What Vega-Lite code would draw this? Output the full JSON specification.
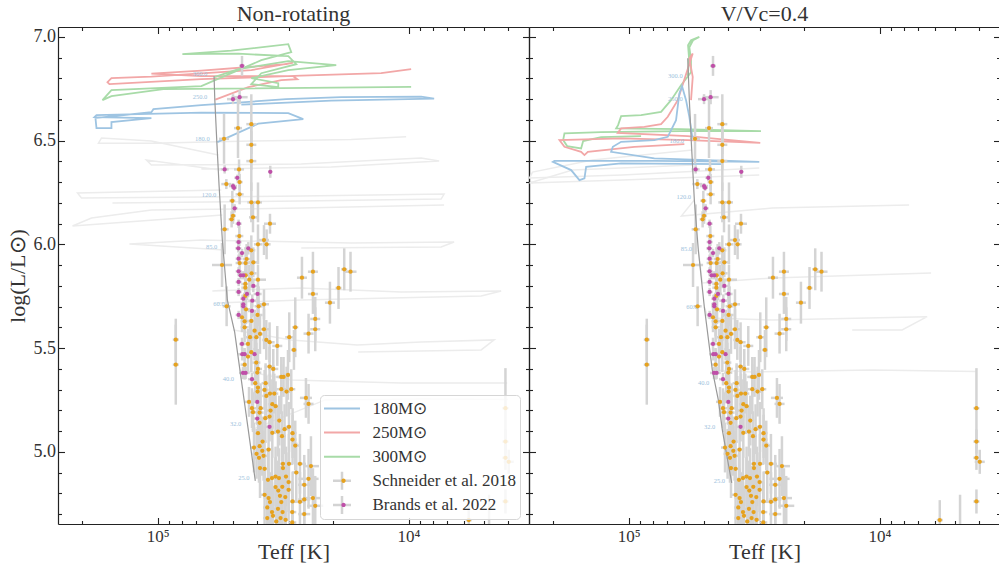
{
"$schema":"https://vega.github.io/schema/vega-lite/v6.json",
"background":"white",
"padding":{"left":6,"top":3,"right":0,"bottom":0},
"config":{"view":{"stroke":null},"font":"Liberation Serif",
"axis":{"grid":false,"domainColor":"#222","tickColor":"#222","domainWidth":1.2,"tickWidth":1.1,"labelFont":"Liberation Serif","titleFont":"Liberation Serif","labelColor":"#333","titleColor":"#333","titleFontWeight":"normal","labelFontSize":18,"titleFontSize":22,"labelFlush":false,"labelOverlap":false},
"title":{"font":"Liberation Serif","fontSize":22,"fontWeight":"normal","color":"#333","anchor":"middle"}},
"datasets":{
"stars":[
{"T":4.6266,"L":6.5799,"dT":0.020,"dL":0.144,"s":"Schneider et al. 2018"},
{"T":4.6266,"L":6.4803,"dT":0.020,"dL":0.120,"s":"Schneider et al. 2018"},
{"T":4.6266,"L":6.4018,"dT":0.020,"dL":0.144,"s":"Schneider et al. 2018"},
{"T":4.6796,"L":6.5607,"dT":0.016,"dL":0.144,"s":"Schneider et al. 2018"},
{"T":4.7353,"L":6.5091,"dT":0.020,"dL":0.120,"s":"Schneider et al. 2018"},
{"T":4.6756,"L":6.3618,"dT":0.020,"dL":0.048,"s":"Schneider et al. 2018"},
{"T":4.6732,"L":6.3007,"dT":0.012,"dL":0.039,"s":"Schneider et al. 2018"},
{"T":4.7262,"L":6.2910,"dT":0.020,"dL":0.024,"s":"Schneider et al. 2018"},
{"T":4.6732,"L":6.2415,"dT":0.016,"dL":0.048,"s":"Schneider et al. 2018"},
{"T":4.7023,"L":6.2106,"dT":0.012,"dL":0.048,"s":"Schneider et al. 2018"},
{"T":4.6266,"L":6.2029,"dT":0.016,"dL":0.096,"s":"Schneider et al. 2018"},
{"T":4.6000,"L":6.2029,"dT":0.016,"dL":0.096,"s":"Schneider et al. 2018"},
{"T":4.6995,"L":6.1384,"dT":0.012,"dL":0.039,"s":"Schneider et al. 2018"},
{"T":4.7051,"L":6.1211,"dT":0.012,"dL":0.039,"s":"Schneider et al. 2018"},
{"T":4.6199,"L":6.1307,"dT":0.016,"dL":0.072,"s":"Schneider et al. 2018"},
{"T":4.5522,"L":6.0999,"dT":0.024,"dL":0.048,"s":"Schneider et al. 2018"},
{"T":4.7329,"L":6.0729,"dT":0.016,"dL":0.120,"s":"Schneider et al. 2018"},
{"T":4.6744,"L":6.0407,"dT":0.016,"dL":0.048,"s":"Schneider et al. 2018"},
{"T":4.5761,"L":6.0214,"dT":0.020,"dL":0.072,"s":"Schneider et al. 2018"},
{"T":4.5657,"L":6.0007,"dT":0.016,"dL":0.072,"s":"Schneider et al. 2018"},
{"T":4.6000,"L":6.0007,"dT":0.016,"dL":0.096,"s":"Schneider et al. 2018"},
{"T":4.6266,"L":5.9718,"dT":0.016,"dL":0.072,"s":"Schneider et al. 2018"},
{"T":4.6454,"L":5.9300,"dT":0.016,"dL":0.072,"s":"Schneider et al. 2018"},
{"T":4.6732,"L":5.9107,"dT":0.016,"dL":0.048,"s":"Schneider et al. 2018"},
{"T":4.6493,"L":5.9107,"dT":0.016,"dL":0.072,"s":"Schneider et al. 2018"},
{"T":4.6187,"L":5.9141,"dT":0.020,"dL":0.072,"s":"Schneider et al. 2018"},
{"T":4.7433,"L":5.9011,"dT":0.040,"dL":0.106,"s":"Schneider et al. 2018"},
{"T":4.6493,"L":5.8515,"dT":0.016,"dL":0.072,"s":"Schneider et al. 2018"},
{"T":4.6255,"L":5.8611,"dT":0.020,"dL":0.072,"s":"Schneider et al. 2018"},
{"T":4.6346,"L":5.8303,"dT":0.016,"dL":0.072,"s":"Schneider et al. 2018"},
{"T":4.6000,"L":5.8303,"dT":0.032,"dL":0.072,"s":"Schneider et al. 2018"},
{"T":4.6505,"L":5.8096,"dT":0.016,"dL":0.072,"s":"Schneider et al. 2018"},
{"T":4.6505,"L":5.7918,"dT":0.016,"dL":0.072,"s":"Schneider et al. 2018"},
{"T":4.6505,"L":5.7518,"dT":0.016,"dL":0.072,"s":"Schneider et al. 2018"},
{"T":4.5761,"L":5.7119,"dT":0.020,"dL":0.072,"s":"Schneider et al. 2018"},
{"T":4.5976,"L":5.7022,"dT":0.016,"dL":0.096,"s":"Schneider et al. 2018"},
{"T":4.7250,"L":5.7022,"dT":0.016,"dL":0.096,"s":"Schneider et al. 2018"},
{"T":4.6477,"L":5.6878,"dT":0.016,"dL":0.072,"s":"Schneider et al. 2018"},
{"T":4.6637,"L":5.6493,"dT":0.016,"dL":0.072,"s":"Schneider et al. 2018"},
{"T":4.6016,"L":5.6603,"dT":0.020,"dL":0.096,"s":"Schneider et al. 2018"},
{"T":4.6533,"L":5.6300,"dT":0.016,"dL":0.072,"s":"Schneider et al. 2018"},
{"T":4.6266,"L":5.6314,"dT":0.016,"dL":0.096,"s":"Schneider et al. 2018"},
{"T":4.6533,"L":5.6011,"dT":0.016,"dL":0.072,"s":"Schneider et al. 2018"},
{"T":4.6135,"L":5.5847,"dT":0.016,"dL":0.096,"s":"Schneider et al. 2018"},
{"T":4.5761,"L":5.5915,"dT":0.020,"dL":0.096,"s":"Schneider et al. 2018"},
{"T":4.4248,"L":5.8399,"dT":0.020,"dL":0.101,"s":"Schneider et al. 2018"},
{"T":4.3810,"L":5.8688,"dT":0.020,"dL":0.096,"s":"Schneider et al. 2018"},
{"T":4.3810,"L":5.7614,"dT":0.020,"dL":0.096,"s":"Schneider et al. 2018"},
{"T":4.3133,"L":5.7195,"dT":0.020,"dL":0.101,"s":"Schneider et al. 2018"},
{"T":4.2791,"L":5.7903,"dT":0.012,"dL":0.101,"s":"Schneider et al. 2018"},
{"T":4.2564,"L":5.8804,"dT":0.012,"dL":0.101,"s":"Schneider et al. 2018"},
{"T":4.2313,"L":5.8688,"dT":0.024,"dL":0.096,"s":"Schneider et al. 2018"},
{"T":4.3719,"L":5.6411,"dT":0.020,"dL":0.106,"s":"Schneider et al. 2018"},
{"T":4.3719,"L":5.5915,"dT":0.020,"dL":0.106,"s":"Schneider et al. 2018"},
{"T":4.4515,"L":5.6011,"dT":0.012,"dL":0.144,"s":"Schneider et al. 2018"},
{"T":4.3985,"L":5.5703,"dT":0.020,"dL":0.096,"s":"Schneider et al. 2018"},
{"T":4.4567,"L":5.4918,"dT":0.012,"dL":0.096,"s":"Schneider et al. 2018"},
{"T":4.4674,"L":5.3026,"dT":0.016,"dL":0.096,"s":"Schneider et al. 2018"},
{"T":4.4089,"L":5.2607,"dT":0.024,"dL":0.096,"s":"Schneider et al. 2018"},
{"T":4.3985,"L":5.2318,"dT":0.020,"dL":0.096,"s":"Schneider et al. 2018"},
{"T":4.5920,"L":5.5689,"dT":0.016,"dL":0.096,"s":"Schneider et al. 2018"},
{"T":4.6318,"L":5.5530,"dT":0.016,"dL":0.072,"s":"Schneider et al. 2018"},
{"T":4.6067,"L":5.5530,"dT":0.016,"dL":0.096,"s":"Schneider et al. 2018"},
{"T":4.5669,"L":5.5400,"dT":0.016,"dL":0.096,"s":"Schneider et al. 2018"},
{"T":4.5538,"L":5.5289,"dT":0.020,"dL":0.096,"s":"Schneider et al. 2018"},
{"T":4.4754,"L":5.5530,"dT":0.016,"dL":0.120,"s":"Schneider et al. 2018"},
{"T":4.6398,"L":5.5207,"dT":0.016,"dL":0.072,"s":"Schneider et al. 2018"},
{"T":4.5231,"L":5.5111,"dT":0.020,"dL":0.096,"s":"Schneider et al. 2018"},
{"T":4.6398,"L":5.4596,"dT":0.016,"dL":0.072,"s":"Schneider et al. 2018"},
{"T":4.6266,"L":5.4807,"dT":0.016,"dL":0.096,"s":"Schneider et al. 2018"},
{"T":4.6533,"L":5.4210,"dT":0.016,"dL":0.072,"s":"Schneider et al. 2018"},
{"T":4.6067,"L":5.4307,"dT":0.016,"dL":0.096,"s":"Schneider et al. 2018"},
{"T":4.5538,"L":5.4114,"dT":0.020,"dL":0.096,"s":"Schneider et al. 2018"},
{"T":4.5391,"L":5.4003,"dT":0.020,"dL":0.096,"s":"Schneider et al. 2018"},
{"T":4.6000,"L":5.4003,"dT":0.016,"dL":0.096,"s":"Schneider et al. 2018"},
{"T":4.6028,"L":5.3825,"dT":0.016,"dL":0.096,"s":"Schneider et al. 2018"},
{"T":4.5072,"L":5.3618,"dT":0.020,"dL":0.096,"s":"Schneider et al. 2018"},
{"T":4.4981,"L":5.3618,"dT":0.020,"dL":0.096,"s":"Schneider et al. 2018"},
{"T":4.4805,"L":5.3715,"dT":0.016,"dL":0.120,"s":"Schneider et al. 2018"},
{"T":4.6107,"L":5.3315,"dT":0.016,"dL":0.096,"s":"Schneider et al. 2018"},
{"T":4.5697,"L":5.3315,"dT":0.016,"dL":0.096,"s":"Schneider et al. 2018"},
{"T":4.6000,"L":5.3103,"dT":0.016,"dL":0.096,"s":"Schneider et al. 2018"},
{"T":4.6016,"L":5.2910,"dT":0.016,"dL":0.096,"s":"Schneider et al. 2018"},
{"T":4.5737,"L":5.2992,"dT":0.016,"dL":0.096,"s":"Schneider et al. 2018"},
{"T":4.5072,"L":5.3026,"dT":0.020,"dL":0.120,"s":"Schneider et al. 2018"},
{"T":4.4861,"L":5.2910,"dT":0.020,"dL":0.120,"s":"Schneider et al. 2018"},
{"T":4.5669,"L":5.2703,"dT":0.016,"dL":0.096,"s":"Schneider et al. 2018"},
{"T":4.5522,"L":5.2814,"dT":0.016,"dL":0.096,"s":"Schneider et al. 2018"},
{"T":4.5351,"L":5.2814,"dT":0.016,"dL":0.096,"s":"Schneider et al. 2018"},
{"T":4.6358,"L":5.2415,"dT":0.016,"dL":0.072,"s":"Schneider et al. 2018"},
{"T":4.6239,"L":5.2111,"dT":0.016,"dL":0.096,"s":"Schneider et al. 2018"},
{"T":4.5896,"L":5.2111,"dT":0.016,"dL":0.120,"s":"Schneider et al. 2018"},
{"T":4.5936,"L":5.1899,"dT":0.016,"dL":0.120,"s":"Schneider et al. 2018"},
{"T":4.5430,"L":5.2304,"dT":0.016,"dL":0.120,"s":"Schneider et al. 2018"},
{"T":4.5299,"L":5.2208,"dT":0.016,"dL":0.120,"s":"Schneider et al. 2018"},
{"T":4.5498,"L":5.1996,"dT":0.016,"dL":0.120,"s":"Schneider et al. 2018"},
{"T":4.6199,"L":5.1919,"dT":0.016,"dL":0.096,"s":"Schneider et al. 2018"},
{"T":4.5538,"L":5.1707,"dT":0.016,"dL":0.120,"s":"Schneider et al. 2018"},
{"T":4.5709,"L":5.1630,"dT":0.016,"dL":0.120,"s":"Schneider et al. 2018"},
{"T":4.5152,"L":5.1514,"dT":0.016,"dL":0.120,"s":"Schneider et al. 2018"},
{"T":4.5936,"L":5.1404,"dT":0.016,"dL":0.120,"s":"Schneider et al. 2018"},
{"T":4.4941,"L":5.1100,"dT":0.016,"dL":0.120,"s":"Schneider et al. 2018"},
{"T":4.4766,"L":5.1211,"dT":0.016,"dL":0.120,"s":"Schneider et al. 2018"},
{"T":4.6000,"L":5.0908,"dT":0.016,"dL":0.120,"s":"Schneider et al. 2018"},
{"T":4.5817,"L":5.0503,"dT":0.016,"dL":0.120,"s":"Schneider et al. 2018"},
{"T":4.5430,"L":5.0922,"dT":0.016,"dL":0.120,"s":"Schneider et al. 2018"},
{"T":4.5204,"L":5.0985,"dT":0.016,"dL":0.120,"s":"Schneider et al. 2018"},
{"T":4.5044,"L":5.0763,"dT":0.016,"dL":0.120,"s":"Schneider et al. 2018"},
{"T":4.4622,"L":5.0908,"dT":0.016,"dL":0.120,"s":"Schneider et al. 2018"},
{"T":4.4622,"L":5.0599,"dT":0.016,"dL":0.120,"s":"Schneider et al. 2018"},
{"T":4.4515,"L":5.0311,"dT":0.016,"dL":0.120,"s":"Schneider et al. 2018"},
{"T":4.6159,"L":5.0214,"dT":0.016,"dL":0.120,"s":"Schneider et al. 2018"},
{"T":4.5936,"L":5.0282,"dT":0.016,"dL":0.120,"s":"Schneider et al. 2018"},
{"T":4.5829,"L":5.0055,"dT":0.016,"dL":0.120,"s":"Schneider et al. 2018"},
{"T":4.6056,"L":4.9911,"dT":0.016,"dL":0.120,"s":"Schneider et al. 2018"},
{"T":4.5777,"L":4.9815,"dT":0.016,"dL":0.120,"s":"Schneider et al. 2018"},
{"T":4.5960,"L":4.9718,"dT":0.016,"dL":0.120,"s":"Schneider et al. 2018"},
{"T":4.5578,"L":5.0118,"dT":0.016,"dL":0.120,"s":"Schneider et al. 2018"},
{"T":4.5920,"L":4.9223,"dT":0.016,"dL":0.144,"s":"Schneider et al. 2018"},
{"T":4.5737,"L":4.9189,"dT":0.016,"dL":0.144,"s":"Schneider et al. 2018"},
{"T":4.5005,"L":4.9430,"dT":0.016,"dL":0.144,"s":"Schneider et al. 2018"},
{"T":4.5005,"L":4.9223,"dT":0.016,"dL":0.144,"s":"Schneider et al. 2018"},
{"T":4.4766,"L":4.9430,"dT":0.016,"dL":0.144,"s":"Schneider et al. 2018"},
{"T":4.4328,"L":4.9430,"dT":0.024,"dL":0.144,"s":"Schneider et al. 2018"},
{"T":4.3890,"L":4.9319,"dT":0.032,"dL":0.144,"s":"Schneider et al. 2018"},
{"T":4.4475,"L":4.9011,"dT":0.016,"dL":0.144,"s":"Schneider et al. 2018"},
{"T":4.5442,"L":4.8741,"dT":0.016,"dL":0.144,"s":"Schneider et al. 2018"},
{"T":4.5299,"L":4.8818,"dT":0.016,"dL":0.144,"s":"Schneider et al. 2018"},
{"T":4.5164,"L":4.8741,"dT":0.016,"dL":0.144,"s":"Schneider et al. 2018"},
{"T":4.5602,"L":4.8659,"dT":0.016,"dL":0.144,"s":"Schneider et al. 2018"},
{"T":4.4885,"L":4.8818,"dT":0.016,"dL":0.144,"s":"Schneider et al. 2018"},
{"T":4.4782,"L":4.8548,"dT":0.016,"dL":0.144,"s":"Schneider et al. 2018"},
{"T":4.3985,"L":4.8707,"dT":0.040,"dL":0.144,"s":"Schneider et al. 2018"},
{"T":4.4157,"L":4.8419,"dT":0.024,"dL":0.144,"s":"Schneider et al. 2018"},
{"T":4.5299,"L":4.8308,"dT":0.016,"dL":0.144,"s":"Schneider et al. 2018"},
{"T":4.5192,"L":4.8144,"dT":0.016,"dL":0.144,"s":"Schneider et al. 2018"},
{"T":4.5032,"L":4.8322,"dT":0.016,"dL":0.144,"s":"Schneider et al. 2018"},
{"T":4.4782,"L":4.8178,"dT":0.016,"dL":0.144,"s":"Schneider et al. 2018"},
{"T":4.5737,"L":4.7937,"dT":0.016,"dL":0.144,"s":"Schneider et al. 2018"},
{"T":4.5578,"L":4.7778,"dT":0.016,"dL":0.144,"s":"Schneider et al. 2018"},
{"T":4.5124,"L":4.7889,"dT":0.016,"dL":0.144,"s":"Schneider et al. 2018"},
{"T":4.4913,"L":4.7826,"dT":0.016,"dL":0.144,"s":"Schneider et al. 2018"},
{"T":4.5522,"L":4.7586,"dT":0.016,"dL":0.144,"s":"Schneider et al. 2018"},
{"T":4.5072,"L":4.7586,"dT":0.016,"dL":0.144,"s":"Schneider et al. 2018"},
{"T":4.4622,"L":4.7615,"dT":0.016,"dL":0.144,"s":"Schneider et al. 2018"},
{"T":4.4328,"L":4.7600,"dT":0.024,"dL":0.144,"s":"Schneider et al. 2018"},
{"T":4.4157,"L":4.7711,"dT":0.024,"dL":0.144,"s":"Schneider et al. 2018"},
{"T":4.3810,"L":4.7778,"dT":0.032,"dL":0.144,"s":"Schneider et al. 2018"},
{"T":4.3719,"L":4.7407,"dT":0.032,"dL":0.144,"s":"Schneider et al. 2018"},
{"T":4.5630,"L":4.7326,"dT":0.016,"dL":0.144,"s":"Schneider et al. 2018"},
{"T":4.5442,"L":4.7104,"dT":0.016,"dL":0.144,"s":"Schneider et al. 2018"},
{"T":4.5204,"L":4.7263,"dT":0.016,"dL":0.144,"s":"Schneider et al. 2018"},
{"T":4.5020,"L":4.7104,"dT":0.016,"dL":0.144,"s":"Schneider et al. 2018"},
{"T":4.5403,"L":4.6926,"dT":0.016,"dL":0.144,"s":"Schneider et al. 2018"},
{"T":4.5100,"L":4.6815,"dT":0.016,"dL":0.144,"s":"Schneider et al. 2018"},
{"T":4.5630,"L":4.6815,"dT":0.016,"dL":0.144,"s":"Schneider et al. 2018"},
{"T":4.4901,"L":4.6733,"dT":0.016,"dL":0.144,"s":"Schneider et al. 2018"},
{"T":4.4157,"L":4.7008,"dT":0.024,"dL":0.144,"s":"Schneider et al. 2018"},
{"T":4.4634,"L":4.7104,"dT":0.016,"dL":0.144,"s":"Schneider et al. 2018"},
{"T":4.5271,"L":4.6651,"dT":0.016,"dL":0.144,"s":"Schneider et al. 2018"},
{"T":4.4634,"L":4.6603,"dT":0.016,"dL":0.144,"s":"Schneider et al. 2018"},
{"T":3.6139,"L":5.2111,"dT":0.012,"dL":0.193,"s":"Schneider et al. 2018"},
{"T":3.6139,"L":5.0503,"dT":0.012,"dL":0.058,"s":"Schneider et al. 2018"},
{"T":3.6139,"L":4.9718,"dT":0.012,"dL":0.058,"s":"Schneider et al. 2018"},
{"T":3.6007,"L":4.9526,"dT":0.020,"dL":0.058,"s":"Schneider et al. 2018"},
{"T":3.6139,"L":4.7615,"dT":0.012,"dL":0.058,"s":"Schneider et al. 2018"},
{"T":3.7600,"L":4.6719,"dT":0.012,"dL":0.096,"s":"Schneider et al. 2018"},
{"T":3.6792,"L":4.5770,"dT":0.012,"dL":0.217,"s":"Schneider et al. 2018"},
{"T":4.9276,"L":5.5414,"dT":0.012,"dL":0.101,"s":"Schneider et al. 2018"},
{"T":4.9276,"L":5.4210,"dT":0.012,"dL":0.193,"s":"Schneider et al. 2018"},
{"T":4.6637,"L":6.8606,"dT":0.012,"dL":0.048,"s":"Brands et al. 2022"},
{"T":4.6995,"L":6.7003,"dT":0.024,"dL":0.024,"s":"Brands et al. 2022"},
{"T":4.6732,"L":6.7099,"dT":0.032,"dL":0.034,"s":"Brands et al. 2022"},
{"T":4.7329,"L":6.3618,"dT":0.016,"dL":0.020,"s":"Brands et al. 2022"},
{"T":4.5510,"L":6.3503,"dT":0.008,"dL":0.029,"s":"Brands et al. 2022"},
{"T":4.6824,"L":6.3214,"dT":0.012,"dL":0.015,"s":"Brands et al. 2022"},
{"T":4.6995,"L":6.2814,"dT":0.016,"dL":0.015,"s":"Brands et al. 2022"},
{"T":4.6955,"L":6.2732,"dT":0.012,"dL":0.015,"s":"Brands et al. 2022"},
{"T":4.6931,"L":6.1741,"dT":0.012,"dL":0.020,"s":"Brands et al. 2022"},
{"T":4.6772,"L":6.0999,"dT":0.012,"dL":0.020,"s":"Brands et al. 2022"},
{"T":4.6772,"L":6.0118,"dT":0.012,"dL":0.020,"s":"Brands et al. 2022"},
{"T":4.6784,"L":5.9815,"dT":0.012,"dL":0.020,"s":"Brands et al. 2022"},
{"T":4.6386,"L":5.9815,"dT":0.016,"dL":0.030,"s":"Brands et al. 2022"},
{"T":4.6637,"L":5.9588,"dT":0.012,"dL":0.020,"s":"Brands et al. 2022"},
{"T":4.6772,"L":5.9314,"dT":0.012,"dL":0.020,"s":"Brands et al. 2022"},
{"T":4.6772,"L":5.8707,"dT":0.012,"dL":0.020,"s":"Brands et al. 2022"},
{"T":4.6692,"L":5.8515,"dT":0.012,"dL":0.020,"s":"Brands et al. 2022"},
{"T":4.6585,"L":5.8515,"dT":0.012,"dL":0.020,"s":"Brands et al. 2022"},
{"T":4.6772,"L":5.8192,"dT":0.012,"dL":0.020,"s":"Brands et al. 2022"},
{"T":4.6187,"L":5.8000,"dT":0.016,"dL":0.030,"s":"Brands et al. 2022"},
{"T":4.6772,"L":5.7711,"dT":0.012,"dL":0.020,"s":"Brands et al. 2022"},
{"T":4.6438,"L":5.7614,"dT":0.016,"dL":0.030,"s":"Brands et al. 2022"},
{"T":4.6016,"L":5.7614,"dT":0.016,"dL":0.030,"s":"Brands et al. 2022"},
{"T":4.6585,"L":5.7388,"dT":0.012,"dL":0.020,"s":"Brands et al. 2022"},
{"T":4.6227,"L":5.7292,"dT":0.016,"dL":0.030,"s":"Brands et al. 2022"},
{"T":4.6585,"L":5.7119,"dT":0.012,"dL":0.020,"s":"Brands et al. 2022"},
{"T":4.6585,"L":5.7022,"dT":0.012,"dL":0.020,"s":"Brands et al. 2022"},
{"T":4.6239,"L":5.6796,"dT":0.016,"dL":0.030,"s":"Brands et al. 2022"},
{"T":4.6772,"L":5.6603,"dT":0.012,"dL":0.020,"s":"Brands et al. 2022"},
{"T":4.6637,"L":5.5207,"dT":0.012,"dL":0.030,"s":"Brands et al. 2022"},
{"T":4.6625,"L":5.4711,"dT":0.016,"dL":0.030,"s":"Brands et al. 2022"},
{"T":4.6533,"L":5.4711,"dT":0.016,"dL":0.030,"s":"Brands et al. 2022"},
{"T":4.6135,"L":5.4711,"dT":0.016,"dL":0.030,"s":"Brands et al. 2022"},
{"T":4.6597,"L":5.3811,"dT":0.016,"dL":0.030,"s":"Brands et al. 2022"},
{"T":4.6493,"L":5.3811,"dT":0.016,"dL":0.030,"s":"Brands et al. 2022"},
{"T":4.6239,"L":5.3508,"dT":0.016,"dL":0.030,"s":"Brands et al. 2022"},
{"T":4.6028,"L":5.2415,"dT":0.016,"dL":0.030,"s":"Brands et al. 2022"},
{"T":4.6028,"L":5.1611,"dT":0.016,"dL":0.030,"s":"Brands et al. 2022"},
{"T":4.5538,"L":5.1211,"dT":0.016,"dL":0.030,"s":"Brands et al. 2022"}
],
"trL":[
{"m":"180M⊙","i":0,"T":4.7620,"L":6.4933},{"m":"180M⊙","i":1,"T":4.5988,"L":6.5823},{"m":"180M⊙","i":2,"T":4.4196,"L":6.6040},{"m":"180M⊙","i":3,"T":4.4793,"L":6.6329},{"m":"180M⊙","i":4,"T":4.8257,"L":6.6353},{"m":"180M⊙","i":5,"T":5.2437,"L":6.6233},{"m":"180M⊙","i":6,"T":5.2517,"L":6.6136},{"m":"180M⊙","i":7,"T":5.0248,"L":6.6088},{"m":"180M⊙","i":8,"T":5.1840,"L":6.5896},{"m":"180M⊙","i":9,"T":5.1840,"L":6.5607},{"m":"180M⊙","i":10,"T":5.2437,"L":6.5607},{"m":"180M⊙","i":11,"T":5.2477,"L":6.6088},{"m":"180M⊙","i":12,"T":5.0248,"L":6.6377},{"m":"180M⊙","i":13,"T":5.0168,"L":6.6521},{"m":"180M⊙","i":14,"T":4.8257,"L":6.6714},{"m":"180M⊙","i":15,"T":4.4873,"L":6.7003},{"m":"180M⊙","i":16,"T":4.2683,"L":6.7099},{"m":"180M⊙","i":17,"T":3.9499,"L":6.7123},{"m":"180M⊙","i":18,"T":3.8981,"L":6.7027},{"m":"180M⊙","i":19,"T":4.3082,"L":6.6931},{"m":"180M⊙","i":20,"T":4.6665,"L":6.6738},
{"m":"250M⊙","i":0,"T":4.7700,"L":6.6979},{"m":"250M⊙","i":1,"T":4.6386,"L":6.7581},{"m":"250M⊙","i":2,"T":4.5072,"L":6.7918},{"m":"250M⊙","i":3,"T":4.4435,"L":6.7966},{"m":"250M⊙","i":4,"T":4.4594,"L":6.8110},{"m":"250M⊙","i":5,"T":4.8257,"L":6.8110},{"m":"250M⊙","i":6,"T":5.0248,"L":6.8231},{"m":"250M⊙","i":7,"T":4.8257,"L":6.8375},{"m":"250M⊙","i":8,"T":4.4873,"L":6.8688},{"m":"250M⊙","i":9,"T":4.4594,"L":6.8760},{"m":"250M⊙","i":10,"T":4.6266,"L":6.8399},{"m":"250M⊙","i":11,"T":5.0248,"L":6.8086},{"m":"250M⊙","i":12,"T":5.1840,"L":6.8014},{"m":"250M⊙","i":13,"T":5.1999,"L":6.7821},{"m":"250M⊙","i":14,"T":5.1920,"L":6.7725},{"m":"250M⊙","i":15,"T":4.8257,"L":6.7966},{"m":"250M⊙","i":16,"T":4.4276,"L":6.8134},{"m":"250M⊙","i":17,"T":4.1091,"L":6.8254},{"m":"250M⊙","i":18,"T":3.9897,"L":6.8447},
{"m":"300M⊙","i":0,"T":4.7740,"L":6.8062},{"m":"300M⊙","i":1,"T":4.6784,"L":6.8447},{"m":"300M⊙","i":2,"T":4.4793,"L":6.8832},{"m":"300M⊙","i":3,"T":4.2882,"L":6.8640},{"m":"300M⊙","i":4,"T":4.4793,"L":6.8399},{"m":"300M⊙","i":5,"T":4.6266,"L":6.8014},{"m":"300M⊙","i":6,"T":4.5192,"L":6.7773},{"m":"300M⊙","i":7,"T":4.5192,"L":6.7581},{"m":"300M⊙","i":8,"T":4.6266,"L":6.7725},{"m":"300M⊙","i":9,"T":4.5868,"L":6.8254},{"m":"300M⊙","i":10,"T":4.4475,"L":6.8688},{"m":"300M⊙","i":11,"T":4.4793,"L":6.9073},{"m":"300M⊙","i":12,"T":4.6784,"L":6.9193},{"m":"300M⊙","i":13,"T":4.9013,"L":6.9169},{"m":"300M⊙","i":14,"T":4.7063,"L":6.9338},{"m":"300M⊙","i":15,"T":4.4793,"L":6.9651},{"m":"300M⊙","i":16,"T":4.4674,"L":6.9266},{"m":"300M⊙","i":17,"T":4.5868,"L":6.8880},{"m":"300M⊙","i":18,"T":4.8257,"L":6.7629},{"m":"300M⊙","i":19,"T":5.1840,"L":6.7436},{"m":"300M⊙","i":20,"T":5.2198,"L":6.6955},{"m":"300M⊙","i":21,"T":5.1840,"L":6.7147},{"m":"300M⊙","i":22,"T":4.9770,"L":6.7484},{"m":"300M⊙","i":23,"T":4.5072,"L":6.7532},{"m":"300M⊙","i":24,"T":3.9897,"L":6.7599}
],
"trR":[
{"m":"300M⊙","i":0,"T":4.7644,"L":6.8062},{"m":"300M⊙","i":1,"T":4.7592,"L":6.8976},{"m":"300M⊙","i":2,"T":4.7632,"L":6.9602},{"m":"300M⊙","i":3,"T":4.7513,"L":6.9843},{"m":"300M⊙","i":4,"T":4.7182,"L":7.0001},{"m":"300M⊙","i":5,"T":4.7433,"L":6.9843},{"m":"300M⊙","i":6,"T":4.7580,"L":6.9506},{"m":"300M⊙","i":7,"T":4.7513,"L":6.8880},{"m":"300M⊙","i":8,"T":4.7513,"L":6.8303},{"m":"300M⊙","i":9,"T":4.7911,"L":6.7677},{"m":"300M⊙","i":10,"T":4.8309,"L":6.6955},{"m":"300M⊙","i":11,"T":4.8707,"L":6.6391},{"m":"300M⊙","i":12,"T":4.9503,"L":6.6233},{"m":"300M⊙","i":13,"T":5.0299,"L":6.6184},{"m":"300M⊙","i":14,"T":5.0419,"L":6.5751},{"m":"300M⊙","i":15,"T":5.0498,"L":6.5592},{"m":"300M⊙","i":16,"T":4.7911,"L":6.5558},{"m":"300M⊙","i":17,"T":4.4726,"L":6.5462},{"m":"300M⊙","i":18,"T":4.7911,"L":6.5462},{"m":"300M⊙","i":19,"T":5.1095,"L":6.5414},{"m":"300M⊙","i":20,"T":5.2557,"L":6.5351},{"m":"300M⊙","i":21,"T":5.2609,"L":6.5029},{"m":"300M⊙","i":22,"T":5.2450,"L":6.4740},{"m":"300M⊙","i":23,"T":5.1893,"L":6.4629},{"m":"300M⊙","i":24,"T":5.1812,"L":6.4981},{"m":"300M⊙","i":25,"T":5.1095,"L":6.5173},{"m":"300M⊙","i":26,"T":4.9503,"L":6.5221},
{"m":"250M⊙","i":0,"T":4.7513,"L":6.6955},{"m":"250M⊙","i":1,"T":4.7445,"L":6.8073},{"m":"250M⊙","i":2,"T":4.7580,"L":6.8962},{"m":"250M⊙","i":3,"T":4.7445,"L":6.9202},{"m":"250M⊙","i":4,"T":4.8042,"L":6.6955},{"m":"250M⊙","i":5,"T":4.8440,"L":6.6151},{"m":"250M⊙","i":6,"T":4.8707,"L":6.5799},{"m":"250M⊙","i":7,"T":4.9372,"L":6.5669},{"m":"250M⊙","i":8,"T":5.0299,"L":6.5592},{"m":"250M⊙","i":9,"T":5.0431,"L":6.5380},{"m":"250M⊙","i":10,"T":4.7644,"L":6.5221},{"m":"250M⊙","i":11,"T":4.4754,"L":6.4899},{"m":"250M⊙","i":12,"T":4.7644,"L":6.5029},{"m":"250M⊙","i":13,"T":5.0299,"L":6.5111},{"m":"250M⊙","i":14,"T":5.2756,"L":6.5029},{"m":"250M⊙","i":15,"T":5.2557,"L":6.4706},{"m":"250M⊙","i":16,"T":5.1893,"L":6.4466},{"m":"250M⊙","i":17,"T":5.1760,"L":6.4307},{"m":"250M⊙","i":18,"T":5.1625,"L":6.4466},{"m":"250M⊙","i":19,"T":4.9770,"L":6.4706},{"m":"250M⊙","i":20,"T":4.7779,"L":6.4836},
{"m":"180M⊙","i":0,"T":4.7445,"L":6.5029},{"m":"180M⊙","i":1,"T":4.7580,"L":6.6151},{"m":"180M⊙","i":2,"T":4.7712,"L":6.6955},{"m":"180M⊙","i":3,"T":4.7871,"L":6.7629},{"m":"180M⊙","i":4,"T":4.7978,"L":6.7277},{"m":"180M⊙","i":5,"T":4.8110,"L":6.5992},{"m":"180M⊙","i":6,"T":4.8440,"L":6.5188},{"m":"180M⊙","i":7,"T":4.8974,"L":6.5029},{"m":"180M⊙","i":8,"T":5.0299,"L":6.4947},{"m":"180M⊙","i":9,"T":5.0629,"L":6.4706},{"m":"180M⊙","i":10,"T":5.0697,"L":6.4466},{"m":"180M⊙","i":11,"T":4.8974,"L":6.4148},{"m":"180M⊙","i":12,"T":4.4793,"L":6.3984},{"m":"180M⊙","i":13,"T":4.8974,"L":6.4032},{"m":"180M⊙","i":14,"T":5.2955,"L":6.4032},{"m":"180M⊙","i":15,"T":5.3019,"L":6.3984},{"m":"180M⊙","i":16,"T":5.2290,"L":6.3585},{"m":"180M⊙","i":17,"T":5.1960,"L":6.3103},{"m":"180M⊙","i":18,"T":5.1760,"L":6.3185},{"m":"180M⊙","i":19,"T":5.1693,"L":6.3743},{"m":"180M⊙","i":20,"T":5.0299,"L":6.3907},{"m":"180M⊙","i":21,"T":4.6266,"L":6.3873}
],
"fL":[
{"id":1,"i":0,"T":4.7580,"L":6.4307},{"id":1,"i":1,"T":5.0248,"L":6.4981},{"id":1,"i":2,"T":5.2238,"L":6.5125},{"id":1,"i":3,"T":5.2358,"L":6.4884},{"id":1,"i":4,"T":5.0248,"L":6.4884},{"id":1,"i":5,"T":4.6266,"L":6.4981},{"id":1,"i":6,"T":4.2285,"L":6.5053},{"id":1,"i":7,"T":4.0096,"L":6.5197},
{"id":2,"i":0,"T":4.7501,"L":6.3585},{"id":2,"i":1,"T":5.0447,"L":6.4066},{"id":2,"i":2,"T":5.0248,"L":6.3825},{"id":2,"i":3,"T":4.4276,"L":6.3873},{"id":2,"i":4,"T":3.9499,"L":6.4162},{"id":2,"i":5,"T":3.8782,"L":6.4018},{"id":2,"i":6,"T":4.3082,"L":6.3729},{"id":2,"i":7,"T":4.8257,"L":6.3633},
{"id":3,"i":0,"T":4.7461,"L":6.2622},{"id":3,"i":1,"T":5.3193,"L":6.2477},{"id":3,"i":2,"T":5.3034,"L":6.2237},{"id":3,"i":3,"T":4.8257,"L":6.2285},{"id":3,"i":4,"T":4.4276,"L":6.2333},{"id":3,"i":5,"T":3.8583,"L":6.2429},{"id":3,"i":6,"T":3.8702,"L":6.2188},{"id":3,"i":7,"T":4.4276,"L":6.2092},{"id":3,"i":8,"T":5.1800,"L":6.1996},
{"id":4,"i":0,"T":4.7421,"L":6.1418},{"id":4,"i":1,"T":5.3392,"L":6.0888},{"id":4,"i":2,"T":5.2636,"L":6.1273},{"id":4,"i":3,"T":5.0248,"L":6.1659},{"id":4,"i":4,"T":4.4276,"L":6.1755},{"id":4,"i":5,"T":3.8583,"L":6.1900},
{"id":5,"i":0,"T":4.7341,"L":5.9733},{"id":5,"i":1,"T":5.1123,"L":6.0022},{"id":5,"i":2,"T":4.8257,"L":6.0214},{"id":5,"i":3,"T":4.2285,"L":6.0070},{"id":5,"i":4,"T":3.8185,"L":6.0118},{"id":5,"i":5,"T":3.8702,"L":5.9877},{"id":5,"i":6,"T":4.4276,"L":5.9829},
{"id":6,"i":0,"T":4.7222,"L":5.7807},{"id":6,"i":1,"T":4.7819,"L":5.7759},{"id":6,"i":2,"T":4.4276,"L":5.7903},{"id":6,"i":3,"T":4.0295,"L":5.7711},{"id":6,"i":4,"T":3.6310,"L":5.7759},{"id":6,"i":5,"T":3.7106,"L":5.7518},{"id":6,"i":6,"T":4.4276,"L":5.7326},{"id":6,"i":7,"T":4.7620,"L":5.7181},
{"id":7,"i":0,"T":4.6983,"L":5.5881},{"id":7,"i":1,"T":4.4674,"L":5.5400},{"id":7,"i":2,"T":4.2046,"L":5.5159},{"id":7,"i":3,"T":3.9499,"L":5.5303},{"id":7,"i":4,"T":3.6588,"L":5.5400},{"id":7,"i":5,"T":3.7106,"L":5.4918},{"id":7,"i":6,"T":4.2007,"L":5.4822},
{"id":8,"i":0,"T":4.6744,"L":5.3956},{"id":8,"i":1,"T":4.4674,"L":5.3474},{"id":8,"i":2,"T":4.0295,"L":5.3330},{"id":8,"i":3,"T":3.6071,"L":5.3330},
{"id":9,"i":0,"T":4.6266,"L":5.1067},{"id":9,"i":1,"T":4.3320,"L":5.2511},{"id":9,"i":2,"T":3.9499,"L":5.2559},{"id":9,"i":3,"T":3.6031,"L":5.2535}
],
"fR":[
{"id":1,"i":0,"T":4.7461,"L":6.4547},{"id":1,"i":1,"T":5.1442,"L":6.4066},{"id":1,"i":2,"T":5.3830,"L":6.3489},{"id":1,"i":3,"T":5.3950,"L":6.3200},{"id":1,"i":4,"T":5.0248,"L":6.3344},{"id":1,"i":5,"T":4.4793,"L":6.3681},
{"id":2,"i":0,"T":4.7421,"L":6.3825},{"id":2,"i":1,"T":5.2238,"L":6.3585},{"id":2,"i":2,"T":5.3950,"L":6.2959},{"id":2,"i":3,"T":5.0248,"L":6.3103},{"id":2,"i":4,"T":4.4793,"L":6.3344},
{"id":3,"i":0,"T":4.7381,"L":6.2140},{"id":3,"i":1,"T":4.7899,"L":6.1370},{"id":3,"i":2,"T":4.4276,"L":6.1755},{"id":3,"i":3,"T":3.8822,"L":6.1900},
{"id":4,"i":0,"T":4.7222,"L":5.9733},{"id":4,"i":1,"T":4.7063,"L":5.8144},{"id":4,"i":2,"T":4.4276,"L":5.8384},{"id":4,"i":3,"T":3.7946,"L":5.8625},
{"id":5,"i":0,"T":4.6983,"L":5.6988},{"id":5,"i":1,"T":4.6824,"L":5.6459},{"id":5,"i":2,"T":4.4276,"L":5.6362},{"id":5,"i":3,"T":3.8105,"L":5.6521},{"id":5,"i":4,"T":3.9101,"L":5.5881},{"id":5,"i":5,"T":4.1091,"L":5.5881},
{"id":6,"i":0,"T":4.6665,"L":5.3956},{"id":6,"i":1,"T":4.5072,"L":5.3859},{"id":6,"i":2,"T":4.0295,"L":5.3956},{"id":6,"i":3,"T":3.6150,"L":5.3874}
],
"zL":[{"i":0,"T":4.7751,"L":6.8110},{"i":1,"T":4.7720,"L":6.6955},{"i":2,"T":4.7640,"L":6.4933},{"i":3,"T":4.7552,"L":6.2862},{"i":4,"T":4.7421,"L":6.0214},{"i":5,"T":4.7222,"L":5.7326},{"i":6,"T":4.6931,"L":5.5785},{"i":7,"T":4.6665,"L":5.3474},{"i":8,"T":4.6398,"L":5.1163},{"i":9,"T":4.6107,"L":4.8611}],
"zR":[{"i":0,"T":4.7644,"L":6.8973},{"i":1,"T":4.7580,"L":6.6955},{"i":2,"T":4.7501,"L":6.4933},{"i":3,"T":4.7381,"L":6.2140},{"i":4,"T":4.7222,"L":5.9733},{"i":5,"T":4.6983,"L":5.6988},{"i":6,"T":4.6665,"L":5.3956},{"i":7,"T":4.6426,"L":5.2511},{"i":8,"T":4.6266,"L":5.1067},{"i":9,"T":4.5892,"L":4.8515}],
"labL":[{"t":"300.0","T":4.8018,"L":6.8207},{"t":"250.0","T":4.8018,"L":6.7114},{"t":"180.0","T":4.7927,"L":6.5091},{"t":"120.0","T":4.7660,"L":6.2381},{"t":"85.0","T":4.7620,"L":5.9877},{"t":"60.0","T":4.7329,"L":5.7119},{"t":"40.0","T":4.6955,"L":5.3508},{"t":"32.0","T":4.6665,"L":5.1341},{"t":"25.0","T":4.6334,"L":4.8770}],
"labR":[{"t":"300.0","T":4.7843,"L":6.8110},{"t":"250.0","T":4.7843,"L":6.7003},{"t":"180.0","T":4.7791,"L":6.4981},{"t":"120.0","T":4.7513,"L":6.2285},{"t":"85.0","T":4.7473,"L":5.9781},{"t":"60.0","T":4.7246,"L":5.6974},{"t":"40.0","T":4.6784,"L":5.3344},{"t":"32.0","T":4.6545,"L":5.1197},{"t":"25.0","T":4.6159,"L":4.8626}]
},
"spacing":0,
"bounds":"flush",
"resolve":{"scale":{"stroke":"independent","fill":"independent"},"legend":{"stroke":"independent","fill":"independent"}},
"hconcat":[
{
"width":471,"height":497,
"title":{"text":"Non-rotating","offset":0},
"resolve":{"axis":{"x":"independent","y":"independent"}},
"layer":[
{"data":{"name":"fL"},"mark":{"type":"line","color":"#ececec","strokeWidth":1.5,"clip":true},
"encoding":{
"x":{"field":"T","type":"quantitative","scale":{"domain":[3.52,5.397],"reverse":true,"nice":false,"zero":false},
"axis":{"orient":"bottom","values":[3.60206,3.69897,3.77815,3.8451,3.90309,3.95424,4,4.30103,4.47712,4.60206,4.69897,4.77815,4.8451,4.90309,4.95424,5,5.30103],"labelExpr":"datum.value == 5 ? '10⁵' : (datum.value == 4 ? '10⁴' : '')","tickSize":{"condition":{"test":"datum.value == 4 || datum.value == 5","value":-6.5},"value":-3.5},"labelPadding":11,"labelFontSize":17,"title":"Teff [K]","titlePadding":-6}},
"y":{"field":"L","type":"quantitative","scale":{"domain":[4.653,7.048],"nice":false,"zero":false},
"axis":{"orient":"left","values":[4.7,4.8,4.9,5.0,5.1,5.2,5.3,5.4,5.5,5.6,5.7,5.8,5.9,6.0,6.1,6.2,6.3,6.4,6.5,6.6,6.7,6.8,6.9,7.0],"labelExpr":"abs(datum.value*2-round(datum.value*2))<0.01 ? format(datum.value,'.1f') : ''","tickSize":{"condition":{"test":"abs(datum.value*2-round(datum.value*2))<0.01","value":-6.5},"value":-3.5},"labelPadding":9,"title":"log(L/L⊙)","titlePadding":4}},
"detail":{"field":"id"},"order":{"field":"i"}}},
{"data":{"name":"trL"},"mark":{"type":"line","strokeWidth":1.8,"clip":true},
"encoding":{
"x":{"field":"T","type":"quantitative","scale":{"domain":[3.52,5.397],"reverse":true,"nice":false,"zero":false},
"axis":{"orient":"top","values":[3.60206,3.69897,3.77815,3.8451,3.90309,3.95424,4,4.30103,4.47712,4.60206,4.69897,4.77815,4.8451,4.90309,4.95424,5,5.30103],"labels":false,"title":null,"tickSize":{"condition":{"test":"datum.value == 4 || datum.value == 5","value":-6.5},"value":-3.5}}},
"y":{"field":"L","type":"quantitative","scale":{"domain":[4.653,7.048],"nice":false,"zero":false},
"axis":{"orient":"right","values":[4.7,4.8,4.9,5.0,5.1,5.2,5.3,5.4,5.5,5.6,5.7,5.8,5.9,6.0,6.1,6.2,6.3,6.4,6.5,6.6,6.7,6.8,6.9,7.0],"labels":false,"title":null,"tickSize":{"condition":{"test":"abs(datum.value*2-round(datum.value*2))<0.01","value":-6.5},"value":-3.5}}},
"stroke":{"field":"m","type":"nominal","scale":{"domain":["180M⊙","250M⊙","300M⊙","Schneider et al. 2018","Brands et al. 2022"],"range":["#9ec4e2","#f2a7a7","#a8dba8","#d3d3d3","#d3d3d3"]},
"legend":{"orient":"none","legendX":262,"legendY":368,"title":null,"symbolSize":400,"clipHeight":20,"symbolType":"M-0.8,0H2.8","symbolStrokeWidth":2,"labelFont":"Liberation Serif","labelFontSize":17,"labelColor":"#333","labelOffset":32,"labelLimit":300,"padding":3.5,"rowPadding":4.1,"strokeColor":"#d6d6d6","fillColor":"rgba(255,255,255,0.8)","cornerRadius":4,
"encode":{"symbols":{"update":{"shape":{"signal":"indexof(['Schneider et al. 2018','Brands et al. 2022'], datum.value) >= 0 ? 'M0.1,0H1.9M1,-0.9V0.9' : 'M-0.8,0H2.8'"},"strokeWidth":{"signal":"indexof(['Schneider et al. 2018','Brands et al. 2022'], datum.value) >= 0 ? 2.5 : 2"}}}}}},
"order":{"field":"i"}}},
{"data":{"name":"stars"},"mark":{"type":"errorbar","color":"#d4d4d4","thickness":2.5,"clip":true},
"encoding":{"x":{"field":"T","type":"quantitative","scale":{"domain":[3.52,5.397],"reverse":true,"nice":false,"zero":false},"axis":null},"xError":{"field":"dT"},
"y":{"field":"L","type":"quantitative","scale":{"domain":[4.653,7.048],"nice":false,"zero":false},"axis":null}}},
{"data":{"name":"stars"},"mark":{"type":"errorbar","color":"#d4d4d4","thickness":2.5,"clip":true},
"encoding":{"y":{"field":"L","type":"quantitative","scale":{"domain":[4.653,7.048],"nice":false,"zero":false},"axis":null},"yError":{"field":"dL"},
"x":{"field":"T","type":"quantitative","scale":{"domain":[3.52,5.397],"reverse":true,"nice":false,"zero":false},"axis":null}}},
{"data":{"name":"zL"},"mark":{"type":"line","color":"#999999","strokeWidth":1.2,"clip":true},
"encoding":{"x":{"field":"T","type":"quantitative","axis":null},"y":{"field":"L","type":"quantitative","axis":null},"order":{"field":"i"}}},
{"data":{"name":"labL"},"mark":{"type":"text","align":"right","baseline":"middle","fontSize":6.5,"color":"#9dbfdc","font":"Liberation Serif"},
"encoding":{"x":{"field":"T","type":"quantitative","axis":null},"y":{"field":"L","type":"quantitative","axis":null},"text":{"field":"t"}}},
{"data":{"name":"stars"},"mark":{"type":"point","filled":true,"size":18,"opacity":1,"strokeWidth":0,"clip":true},
"encoding":{"x":{"field":"T","type":"quantitative","axis":null},"y":{"field":"L","type":"quantitative","axis":null},
"fill":{"field":"s","type":"nominal","scale":{"domain":["_a","_b","_c","Schneider et al. 2018","Brands et al. 2022"],"range":["transparent","transparent","transparent","#e6a21e","#bf4fa8"]},
"legend":{"orient":"none","legendX":262,"legendY":368,"title":null,"symbolSize":400,"clipHeight":20,"symbolType":"M0.78,0A0.22,0.22,0,1,0,1.22,0A0.22,0.22,0,1,0,0.78,0Z","symbolStrokeWidth":0,"labelFont":"Liberation Serif","labelFontSize":17,"labelOpacity":0,"labelOffset":32,"labelLimit":300,"padding":3.5,"rowPadding":4.1}}}}
]
},
{
"width":471,"height":497,
"title":{"text":"V/Vc=0.4","offset":0},
"resolve":{"axis":{"x":"independent","y":"independent"}},
"layer":[
{"data":{"name":"fR"},"mark":{"type":"line","color":"#ececec","strokeWidth":1.5,"clip":true},
"encoding":{
"x":{"field":"T","type":"quantitative","scale":{"domain":[3.52,5.397],"reverse":true,"nice":false,"zero":false},
"axis":{"orient":"bottom","values":[3.60206,3.69897,3.77815,3.8451,3.90309,3.95424,4,4.30103,4.47712,4.60206,4.69897,4.77815,4.8451,4.90309,4.95424,5,5.30103],"labelExpr":"datum.value == 5 ? '10⁵' : (datum.value == 4 ? '10⁴' : '')","tickSize":{"condition":{"test":"datum.value == 4 || datum.value == 5","value":-6.5},"value":-3.5},"labelPadding":11,"labelFontSize":17,"title":"Teff [K]","titlePadding":-6}},
"y":{"field":"L","type":"quantitative","scale":{"domain":[4.653,7.048],"nice":false,"zero":false},
"axis":{"orient":"left","values":[4.7,4.8,4.9,5.0,5.1,5.2,5.3,5.4,5.5,5.6,5.7,5.8,5.9,6.0,6.1,6.2,6.3,6.4,6.5,6.6,6.7,6.8,6.9,7.0],"labels":false,"title":null,"tickSize":{"condition":{"test":"abs(datum.value*2-round(datum.value*2))<0.01","value":-6.5},"value":-3.5}}},
"detail":{"field":"id"},"order":{"field":"i"}}},
{"data":{"name":"trR"},"mark":{"type":"line","strokeWidth":1.8,"clip":true},
"encoding":{
"x":{"field":"T","type":"quantitative","scale":{"domain":[3.52,5.397],"reverse":true,"nice":false,"zero":false},
"axis":{"orient":"top","values":[3.60206,3.69897,3.77815,3.8451,3.90309,3.95424,4,4.30103,4.47712,4.60206,4.69897,4.77815,4.8451,4.90309,4.95424,5,5.30103],"labels":false,"title":null,"tickSize":{"condition":{"test":"datum.value == 4 || datum.value == 5","value":-6.5},"value":-3.5}}},
"y":{"field":"L","type":"quantitative","scale":{"domain":[4.653,7.048],"nice":false,"zero":false},
"axis":{"orient":"right","values":[4.7,4.8,4.9,5.0,5.1,5.2,5.3,5.4,5.5,5.6,5.7,5.8,5.9,6.0,6.1,6.2,6.3,6.4,6.5,6.6,6.7,6.8,6.9,7.0],"labels":false,"title":null,"tickSize":{"condition":{"test":"abs(datum.value*2-round(datum.value*2))<0.01","value":-6.5},"value":-3.5}}},
"stroke":{"field":"m","type":"nominal","scale":{"domain":["180M⊙","250M⊙","300M⊙"],"range":["#9ec4e2","#f2a7a7","#a8dba8"]},"legend":null},
"order":{"field":"i"}}},
{"data":{"name":"stars"},"mark":{"type":"errorbar","color":"#d4d4d4","thickness":2.5,"clip":true},
"encoding":{"x":{"field":"T","type":"quantitative","scale":{"domain":[3.52,5.397],"reverse":true,"nice":false,"zero":false},"axis":null},"xError":{"field":"dT"},
"y":{"field":"L","type":"quantitative","scale":{"domain":[4.653,7.048],"nice":false,"zero":false},"axis":null}}},
{"data":{"name":"stars"},"mark":{"type":"errorbar","color":"#d4d4d4","thickness":2.5,"clip":true},
"encoding":{"y":{"field":"L","type":"quantitative","scale":{"domain":[4.653,7.048],"nice":false,"zero":false},"axis":null},"yError":{"field":"dL"},
"x":{"field":"T","type":"quantitative","scale":{"domain":[3.52,5.397],"reverse":true,"nice":false,"zero":false},"axis":null}}},
{"data":{"name":"zR"},"mark":{"type":"line","color":"#999999","strokeWidth":1.2,"clip":true},
"encoding":{"x":{"field":"T","type":"quantitative","axis":null},"y":{"field":"L","type":"quantitative","axis":null},"order":{"field":"i"}}},
{"data":{"name":"labR"},"mark":{"type":"text","align":"right","baseline":"middle","fontSize":6.5,"color":"#9dbfdc","font":"Liberation Serif"},
"encoding":{"x":{"field":"T","type":"quantitative","axis":null},"y":{"field":"L","type":"quantitative","axis":null},"text":{"field":"t"}}},
{"data":{"name":"stars"},"mark":{"type":"point","filled":true,"size":18,"opacity":1,"strokeWidth":0,"clip":true},
"encoding":{"x":{"field":"T","type":"quantitative","axis":null},"y":{"field":"L","type":"quantitative","axis":null},
"fill":{"field":"s","type":"nominal","scale":{"domain":["Schneider et al. 2018","Brands et al. 2022"],"range":["#e6a21e","#bf4fa8"]},"legend":null}}}
]
}
]
}
